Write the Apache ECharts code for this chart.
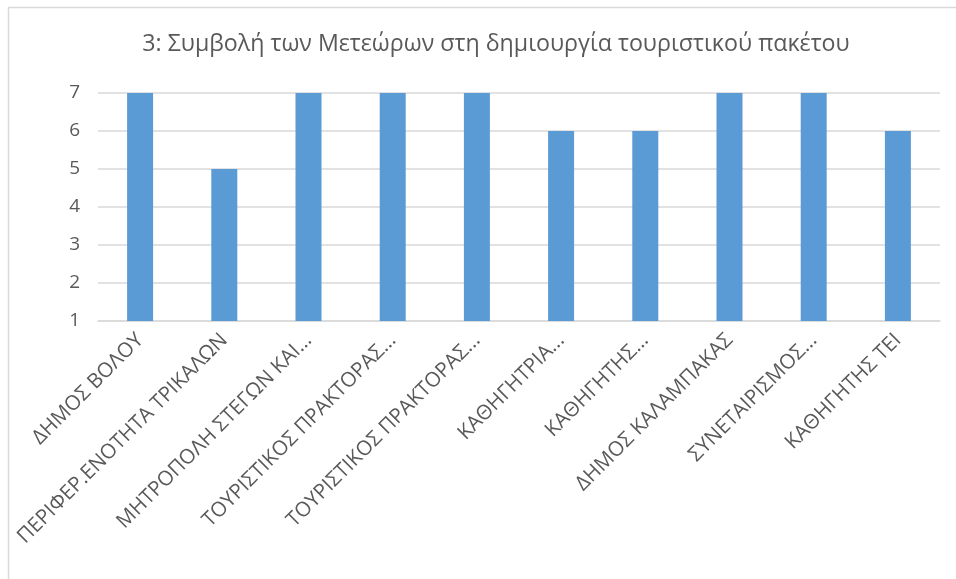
<!DOCTYPE html>
<html lang="el">
<head>
    <meta charset="UTF-8">
    <script src="https://cdn.jsdelivr.net/npm/echarts@6/dist/echarts.min.js"></script>
    <title>Συμβολή των Μετεώρων</title>
</head>
<body style="margin:0;background:#fff;">
    <div id="chart" style="width: 956px;height:579px;"></div>
</body>
<script type="text/javascript">
    var titleText = '3: Συμβολή των Μετεώρων στη δημιουργία τουριστικού πακέτου';
    var categories = ['ΔΗΜΟΣ ΒΟΛΟΥ', 'ΠΕΡΙΦΕΡ.ΕΝΟΤΗΤΑ ΤΡΙΚΑΛΩΝ', 'ΜΗΤΡΟΠΟΛΗ ΣΤΕΓΩΝ ΚΑΙ...',
        'ΤΟΥΡΙΣΤΙΚΟΣ ΠΡΑΚΤΟΡΑΣ...', 'ΤΟΥΡΙΣΤΙΚΟΣ ΠΡΑΚΤΟΡΑΣ...', 'ΚΑΘΗΓΗΤΡΙΑ...',
        'ΚΑΘΗΓΗΤΗΣ...', 'ΔΗΜΟΣ ΚΑΛΑΜΠΑΚΑΣ', 'ΣΥΝΕΤΑΙΡΙΣΜΟΣ...', 'ΚΑΘΗΓΗΤΗΣ ΤΕΙ'];
    var values = [7, 5, 7, 7, 7, 6, 6, 7, 7, 6];

    var chart = echarts.init(document.getElementById('chart'));
    chart.setOption({
        animation: false,
        textStyle: { fontFamily: 'Open Sans' },
        title: {
            text: titleText,
            left: 491,
            top: 28,
            textAlign: 'center',
            textStyle: { fontSize: 23.2, fontWeight: 'normal', color: '#595959', fontFamily: 'Open Sans' }
        },
        graphic: [
            { type: 'line', shape: { x1: 8, y1: 7.5, x2: 956, y2: 7.5 }, style: { stroke: '#d9d9d9', lineWidth: 1.5 } },
            { type: 'line', shape: { x1: 8.5, y1: 7, x2: 8.5, y2: 579 }, style: { stroke: '#d9d9d9', lineWidth: 1.5 } }
        ],
        grid: { left: 98, right: 16, top: 93, bottom: 258, outerBoundsMode: 'none', containLabel: false },
        xAxis: {
            type: 'category',
            data: categories,
            axisLine: { lineStyle: { color: '#d9d9d9', width: 1.5 } },
            axisTick: { show: false },
            axisLabel: { rotate: 45, interval: 0, color: '#595959', fontSize: 20.5, margin: 16 }
        },
        yAxis: {
            type: 'value',
            min: 1,
            max: 7,
            interval: 1,
            axisLine: { show: false },
            axisTick: { show: false },
            splitLine: { lineStyle: { color: '#d9d9d9', width: 1.5 } },
            axisLabel: { color: '#595959', fontSize: 19, margin: 18 }
        },
        series: [{
            type: 'bar',
            data: values,
            barWidth: 26,
            itemStyle: { color: '#5b9bd5' }
        }]
    });
</script>
</html>
